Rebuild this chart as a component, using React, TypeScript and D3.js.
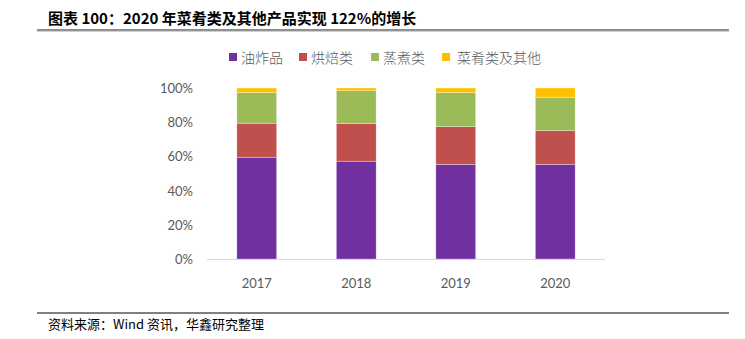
import React from "react";
import * as d3 from "d3";

const years = ["2017", "2018", "2019", "2020"];
const seriesNames = ["油炸品", "烘焙类", "蒸煮类", "菜肴类及其他"];
const fried = [59.5, 57.2, 55.3, 55.3];
const baked = [19.9, 22.0, 22.1, 19.8];
const steamed = [17.9, 19.2, 19.9, 19.5];
const dishes = [2.7, 1.6, 2.7, 5.4];
const yTicks = [0, 0.2, 0.4, 0.6, 0.8, 1.0];
const colors = ["#7030A0", "#C0504D", "#9BBB59", "#FFC000"];

const title = "图表 100：2020 年菜肴类及其他产品实现 122%的增长";
const source = "资料来源：Wind 资讯，华鑫研究整理";

const W = 745;
const H = 339;

export default function App() {
  const rows = years.map((y, i) => {
    const total = fried[i] + baked[i] + steamed[i] + dishes[i];
    return {
      year: y,
      [seriesNames[0]]: fried[i] / total,
      [seriesNames[1]]: baked[i] / total,
      [seriesNames[2]]: steamed[i] / total,
      [seriesNames[3]]: dishes[i] / total,
    } as any;
  });
  const stack = d3.stack<any>().keys(seriesNames);
  const layers = stack(rows);

  const x = d3.scaleBand<string>().domain(years).range([207, 605]).paddingInner(0.6).paddingOuter(0.3);
  const y = d3.scaleLinear().domain([0, 1]).range([259, 88]);
  const fmt = d3.format(".0%");

  const legendX = [229, 299, 371, 442];
  const cjk = "'Noto Sans CJK SC', 'Noto Sans', sans-serif";
  const num = "Lato, 'Open Sans', sans-serif";

  return (
    <svg width={W} height={H} style={{ position: "absolute", left: 0, top: 0, background: "#fff" }}>
      <text x={48} y={24} fontFamily={cjk} fontWeight={700} fontSize={15} fill="#000">
        {title}
      </text>
      <line x1={37} x2={729} y1={30} y2={30} stroke="#666" strokeWidth={1.5} />
      <line x1={37} x2={729} y1={31.2} y2={31.2} stroke="#aaa" strokeWidth={0.8} />

      {seriesNames.map((s, i) => (
        <g key={s}>
          <rect x={legendX[i]} y={53} width={8} height={8} fill={colors[i]} />
          <text
            x={legendX[i] + (i === 3 ? 15 : 12)}
            y={57}
            dominantBaseline="central"
            fontFamily={cjk}
            fontWeight={300}
            fontSize={14}
            fill="#595959"
          >
            {s}
          </text>
        </g>
      ))}

      {yTicks.map((t) => (
        <text
          key={t}
          x={193}
          y={y(t)}
          textAnchor="end"
          dominantBaseline="central"
          fontFamily={num}
          fontSize={13}
          fill="#595959"
        >
          {fmt(t)}
        </text>
      ))}

      {layers.map((layer, li) => (
        <g key={layer.key}>
          {layer.map((d: any) => (
            <rect
              key={d.data.year}
              x={x(d.data.year)}
              y={y(d[1])}
              width={x.bandwidth()}
              height={y(d[0]) - y(d[1])}
              fill={colors[li]}
              stroke="#ffffff"
              strokeOpacity={0.5}
              strokeWidth={0.6}
            />
          ))}
        </g>
      ))}

      <line x1={207} x2={605} y1={259.5} y2={259.5} stroke="#d9d9d9" strokeWidth={1} />

      {years.map((yr) => (
        <text
          key={yr}
          x={(x(yr) as number) + x.bandwidth() / 2}
          y={283}
          textAnchor="middle"
          dominantBaseline="central"
          fontFamily={num}
          fontSize={13}
          fill="#595959"
        >
          {yr}
        </text>
      ))}

      <line x1={37} x2={729} y1={313} y2={313} stroke="#000" strokeWidth={1} />
      <text x={48} y={323} dominantBaseline="central" fontFamily={cjk} fontSize={13} fill="#000">
        {source}
      </text>
    </svg>
  );
}
